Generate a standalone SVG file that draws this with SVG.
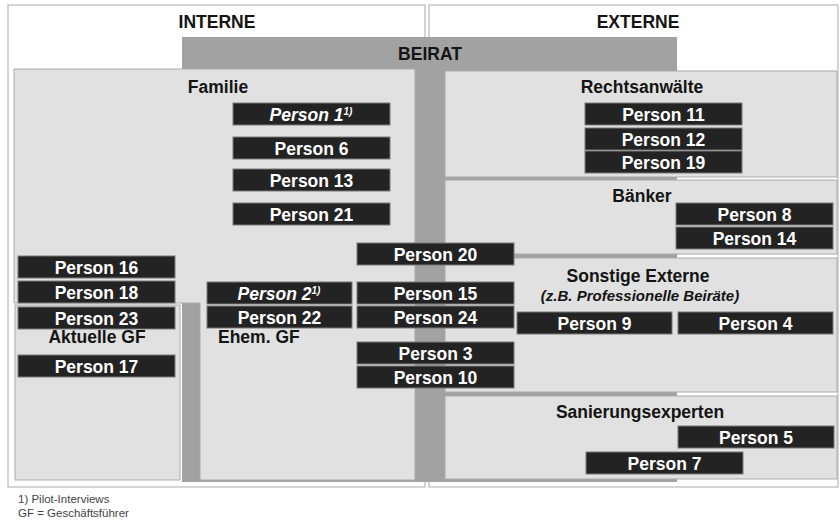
<svg xmlns="http://www.w3.org/2000/svg" width="840" height="520" viewBox="0 0 840 520">
  <style>
    text { font-family: "Liberation Sans", Arial, sans-serif; }
    .frame { fill: #ffffff; stroke: #c6c6c6; stroke-width: 1.5; }
    .area { fill: #e1e1e1; }
    .edge { fill: none; stroke: #aaaaaa; stroke-width: 1; }
    .head { font-size: 17.5px; font-weight: bold; fill: #141414; text-anchor: middle; }
    .sub { font-size: 15px; font-weight: bold; font-style: italic; fill: #141414; text-anchor: middle; }
    .p rect { fill: #232323; stroke: #7a7a7a; stroke-width: 1; }
    .p text { font-size: 17.5px; font-weight: bold; fill: #ffffff; text-anchor: middle; }
    .p.pilot text { font-style: italic; }
    .sup { font-size: 10px; }
    .note { font-size: 11.5px; fill: #444444; }
  </style>

  <!-- outer frames -->
  <g id="interne">
    <rect class="frame" x="8" y="5" width="417" height="482"/>
    <text class="head" x="217" y="28">INTERNE</text>
  </g>
  <g id="externe">
    <rect class="frame" x="429" y="5" width="409" height="482"/>
    <text class="head" x="638" y="28">EXTERNE</text>
  </g>

  <!-- advisory board band behind the groups -->
  <g id="beirat">
    <rect x="182" y="37" width="495" height="445" fill="#a2a2a2"/>
    <text class="head" x="430" y="60">BEIRAT</text>
  </g>

  <!-- internal groups -->
  <g id="familie">
    <rect class="area" x="14" y="69" width="401" height="234"/>
    <rect class="area" x="200" y="300" width="215" height="180"/>
    <path class="edge" d="M200,303 H14 V69 H415 V480 H200 Z"/>
    <text class="head" x="218" y="93">Familie</text>
    <text class="head" x="218" y="343" text-anchor="start" style="text-anchor:start">Ehem. GF</text>
  </g>
  <g id="aktuelle-gf">
    <rect class="area" x="15" y="305" width="165" height="175"/>
    <rect class="edge" x="15" y="305" width="165" height="175"/>
    <text class="head" x="97" y="343">Aktuelle GF</text>
  </g>

  <!-- external groups -->
  <g id="rechtsanwaelte">
    <rect class="area" x="445" y="71" width="392" height="106"/>
    <rect class="edge" x="445" y="71" width="392" height="106"/>
    <text class="head" x="642" y="93">Rechtsanwälte</text>
  </g>
  <g id="baenker">
    <rect class="area" x="445" y="180" width="392" height="74"/>
    <rect class="edge" x="445" y="180" width="392" height="74"/>
    <text class="head" x="642" y="202">Bänker</text>
  </g>
  <g id="sonstige">
    <rect class="area" x="445" y="258" width="392" height="134"/>
    <rect class="edge" x="445" y="258" width="392" height="134"/>
    <text class="head" x="638" y="282">Sonstige Externe</text>
    <text class="sub" x="640" y="301">(z.B. Professionelle Beiräte)</text>
  </g>
  <g id="sanierung">
    <rect class="area" x="445" y="396" width="392" height="83"/>
    <rect class="edge" x="445" y="396" width="392" height="83"/>
    <text class="head" x="640" y="418">Sanierungsexperten</text>
  </g>

  <!-- persons -->
  <g id="person1" class="p pilot"><rect x="233" y="103" width="157" height="22"/><text x="311" y="120.5">Person 1<tspan class="sup" dy="-6">1)</tspan></text></g>
  <g id="person6" class="p"><rect x="233" y="137" width="157" height="22"/><text x="311.5" y="154.5">Person 6</text></g>
  <g id="person13" class="p"><rect x="233" y="169" width="157" height="22"/><text x="311.5" y="186.5">Person 13</text></g>
  <g id="person21" class="p"><rect x="233" y="203" width="157" height="22"/><text x="311.5" y="220.5">Person 21</text></g>

  <g id="person11" class="p"><rect x="585" y="103" width="157" height="22"/><text x="663.5" y="120.5">Person 11</text></g>
  <g id="person12" class="p"><rect x="585" y="128" width="157" height="22"/><text x="663.5" y="145.5">Person 12</text></g>
  <g id="person19" class="p"><rect x="585" y="151" width="157" height="22"/><text x="663.5" y="168.5">Person 19</text></g>

  <g id="person8" class="p"><rect x="676" y="203" width="157" height="22"/><text x="754.5" y="220.5">Person 8</text></g>
  <g id="person14" class="p"><rect x="676" y="227" width="157" height="22"/><text x="754.5" y="244.5">Person 14</text></g>

  <g id="person20" class="p"><rect x="357" y="243" width="157" height="22"/><text x="435.5" y="260.5">Person 20</text></g>
  <g id="person15" class="p"><rect x="357" y="282" width="157" height="22"/><text x="435.5" y="299.5">Person 15</text></g>
  <g id="person24" class="p"><rect x="357" y="306" width="157" height="22"/><text x="435.5" y="323.5">Person 24</text></g>
  <g id="person3" class="p"><rect x="357" y="342" width="157" height="22"/><text x="435.5" y="359.5">Person 3</text></g>
  <g id="person10" class="p"><rect x="357" y="366" width="157" height="22"/><text x="435.5" y="383.5">Person 10</text></g>

  <g id="person9" class="p"><rect x="517" y="312" width="155" height="22"/><text x="594.5" y="329.5">Person 9</text></g>
  <g id="person4" class="p"><rect x="678" y="312" width="155" height="22"/><text x="755.5" y="329.5">Person 4</text></g>

  <g id="person16" class="p"><rect x="18" y="256" width="157" height="22"/><text x="96.5" y="273.5">Person 16</text></g>
  <g id="person18" class="p"><rect x="18" y="281" width="157" height="22"/><text x="96.5" y="298.5">Person 18</text></g>
  <g id="person23" class="p"><rect x="18" y="307" width="157" height="22"/><text x="96.5" y="324.5">Person 23</text></g>
  <g id="person17" class="p"><rect x="18" y="355" width="157" height="22"/><text x="96.5" y="372.5">Person 17</text></g>

  <g id="person2" class="p pilot"><rect x="207" y="282" width="145" height="22"/><text x="279" y="299.5">Person 2<tspan class="sup" dy="-6">1)</tspan></text></g>
  <g id="person22" class="p"><rect x="207" y="306" width="145" height="22"/><text x="279.5" y="323.5">Person 22</text></g>

  <g id="person5" class="p"><rect x="678" y="426" width="156" height="22"/><text x="756" y="443.5">Person 5</text></g>
  <g id="person7" class="p"><rect x="586" y="452" width="157" height="22"/><text x="664.5" y="469.5">Person 7</text></g>

  <!-- notes -->
  <g id="notes">
    <text class="note" x="18" y="503">1) Pilot-Interviews</text>
    <text class="note" x="18" y="517">GF = Geschäftsführer</text>
  </g>
</svg>
